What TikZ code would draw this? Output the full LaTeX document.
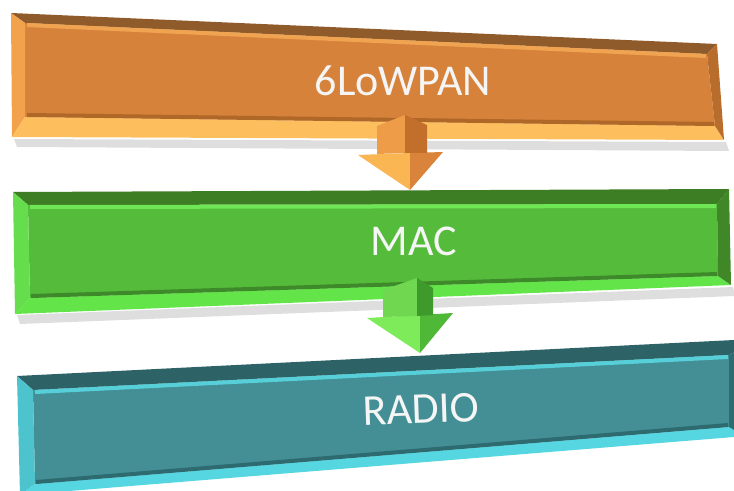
\documentclass[tikz,border=0pt]{standalone}
\usepackage{fontspec}
\setmainfont{Carlito}
\usepackage{xcolor}

\definecolor{orFace}{RGB}{215,130,58}
\definecolor{orTop}{RGB}{143,91,42}
\definecolor{orLeft}{RGB}{242,162,76}
\definecolor{orBottom}{RGB}{253,190,94}
\definecolor{orRight}{RGB}{185,109,44}
\definecolor{orLight}{RGB}{240,164,82}
\definecolor{orDark}{RGB}{176,104,40}
\definecolor{grFace}{RGB}{85,188,59}
\definecolor{grTop}{RGB}{61,125,36}
\definecolor{grLeft}{RGB}{102,221,76}
\definecolor{grBottom}{RGB}{99,229,74}
\definecolor{grRight}{RGB}{63,135,39}
\definecolor{grLight}{RGB}{111,230,83}
\definecolor{grDark}{RGB}{62,138,42}
\definecolor{tlFace}{RGB}{67,143,149}
\definecolor{tlTop}{RGB}{45,99,102}
\definecolor{tlLeft}{RGB}{76,195,205}
\definecolor{tlBottom}{RGB}{85,214,224}
\definecolor{tlRight}{RGB}{47,108,112}
\definecolor{tlLight}{RGB}{86,207,217}
\definecolor{tlDark}{RGB}{46,107,112}

\begin{document}
\begin{tikzpicture}[x=0.75pt,y=0.75pt,yscale=-1,xscale=1,
    layer label/.style={text=white!96!black, font=\fontsize{33}{36}\selectfont, inner sep=0.75pt},
    box shadow/.style={fill=black, fill opacity=0.13}]
        \useasboundingbox (0,0) rectangle (734,491);

        %Shape: Shadow [6LoWPAN]
        \fill [box shadow] (14,139) -- (726,142) -- (729,151) -- (17,147) -- cycle ;
        %Shape: Shadow [MAC]
        \fill [box shadow] (17,315) -- (733,287) -- (735,296) -- (20,324) -- cycle ;

        %Shape: Bevel Box [6LoWPAN]
        \fill [orFace] (25,23) -- (707,54) -- (715,126) -- (25,117) -- cycle ;
        \fill [orTop] (11,13) -- (717,44) -- (707,54) -- (25,23) -- cycle ;
        \fill [orLeft] (11,13) -- (25,23) -- (25,117) -- (12,137) -- cycle ;
        \fill [orBottom] (12,137) -- (25,117) -- (715,126) -- (724,140) -- cycle ;
        \fill [orRight] (717,44) -- (724,140) -- (715,126) -- (707,54) -- cycle ;
        \draw [orLight, line width=3] (27,25) -- (706,56) ;
        \draw [orDark, line width=3] (27,115) -- (714,124) ;

        %Shape: Bevel Box [MAC]
        \fill [grFace] (28,205) -- (717,204) -- (718,276) -- (30,298) -- cycle ;
        \fill [grTop] (13,192) -- (729,189) -- (717,204) -- (28,205) -- cycle ;
        \fill [grLeft] (13,192) -- (28,205) -- (30,298) -- (15,314) -- cycle ;
        \fill [grBottom] (15,314) -- (30,298) -- (718,276) -- (731,285) -- cycle ;
        \fill [grRight] (729,189) -- (731,285) -- (718,276) -- (717,204) -- cycle ;
        \draw [grLight, line width=3] (30,207) -- (716,206) ;
        \draw [grDark, line width=3] (31,296) -- (717,274) ;

        %Shape: Bevel Box [RADIO]
        \fill [tlFace] (33,390) -- (729,355) -- (729,427) -- (35,484) -- cycle ;
        \fill [tlTop] (17,376) -- (734,340) -- (734,352) -- (729,355) -- (33,390) -- cycle ;
        \fill [tlLeft] (17,376) -- (33,390) -- (35,484) -- (20,495) -- cycle ;
        \fill [tlBottom] (20,495) -- (35,484) -- (729,427) -- (734,430) -- (734,437) -- cycle ;
        \fill [tlRight] (729,355) -- (734,352) -- (734,430) -- (729,427) -- cycle ;
        \draw [tlLight, line width=3] (35,392) -- (728,357) ;
        \draw [tlDark, line width=3] (36,482) -- (728,425) ;

        %Shape: Block Arrow [6LoWPAN -> MAC]
        \fill [fill={rgb, 255:red, 249; green, 182; blue, 83 }] (358,155) -- (410,153) -- (410,190) -- cycle ;
        \fill [fill={rgb, 255:red, 217; green, 132; blue, 58 }] (410,153) -- (443,152) -- (410,190) -- cycle ;
        \fill [fill={rgb, 255:red, 238; green, 156; blue, 72 }] (377,126) -- (405,115) -- (405,153) -- (377,154) -- cycle ;
        \fill [fill={rgb, 255:red, 194; green, 111; blue, 44 }] (405,115) -- (427,125) -- (427,153) -- (405,153) -- cycle ;

        %Shape: Block Arrow [MAC -> RADIO]
        \fill [fill={rgb, 255:red, 125; green, 235; blue, 90 }] (367,318) -- (420,315) -- (420,353) -- cycle ;
        \fill [fill={rgb, 255:red, 79; green, 184; blue, 55 }] (420,315) -- (453,313) -- (420,353) -- cycle ;
        \fill [fill={rgb, 255:red, 111; green, 216; blue, 80 }] (383,290) -- (417,278) -- (417,316) -- (383,317) -- cycle ;
        \fill [fill={rgb, 255:red, 63; green, 154; blue, 44 }] (417,278) -- (433,288) -- (433,315) -- (417,316) -- cycle ;

        % Text Node
        \node [layer label] (lowpan) at (403,81) {6LoWPAN};
        % Text Node
        \node [layer label] (mac) at (414,241) {MAC};
        % Text Node
        \node [layer label, rotate=2] (radio) at (421,409) {RADIO};

\end{tikzpicture}
\end{document}
